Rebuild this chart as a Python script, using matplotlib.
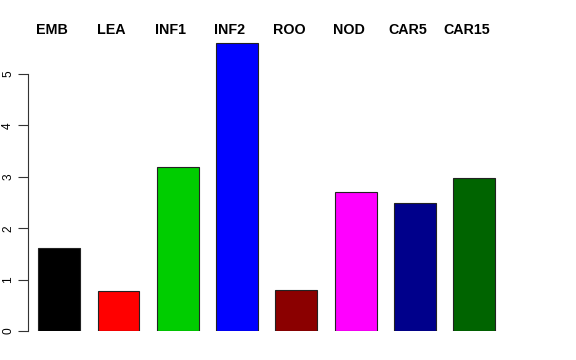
import matplotlib
matplotlib.use("Agg")
import matplotlib.pyplot as plt
import matplotlib.transforms as mtransforms
import numpy as np

tissues = ["EMB", "LEA", "INF1", "INF2", "ROO", "NOD", "CAR5", "CAR15"]
values = [1.62, 0.78, 3.20, 5.61, 0.79, 2.70, 2.49, 2.98]
colors = ["#000000", "#FF0000", "#00CD00", "#0000FF", "#8B0000", "#FF00FF", "#00008B", "#006400"]
yticks = [0, 1, 2, 3, 4, 5]

plt.rcParams["font.family"] = ["Liberation Sans", "DejaVu Sans"]

W, H = 576, 360
fig = plt.figure(figsize=(W / 100, H / 100), dpi=100)

# plot region in pixels: left 28, right 505.5, y=0 at 331
ymax = 6.0
px_per_unit = 51.4
top_px = 331 - ymax * px_per_unit
ax = fig.add_axes([28 / W, (H - 331) / H, (505.5 - 28) / W, (331 - top_px) / H])

x = np.arange(len(tissues))
ax.bar(x, values, width=0.708, color=colors, edgecolor="#222222", linewidth=0.8)

ax.set_xlim(-0.526, 7.526)
ax.set_ylim(0, ymax)

for s in ["top", "right", "bottom"]:
    ax.spines[s].set_visible(False)
ax.spines["left"].set_bounds(0, 5)
ax.spines["left"].set_linewidth(0.8)
ax.spines["left"].set_color("#333333")
ax.set_xticks([])
ax.set_yticks(yticks)
ax.set_yticklabels([str(t) for t in yticks], rotation=90, va="center", fontsize=8.6)
ax.tick_params(axis="y", length=7, width=0.8, color="#333333", pad=3)

# bold names along the top, x in data units, y in figure units
trans = mtransforms.blended_transform_factory(ax.transData, fig.transFigure)
for xi, name in zip(x, tissues):
    ax.text(xi - 0.12, 1 - 30 / H, name, transform=trans,
            ha="center", va="center", fontsize=10.3, fontweight="bold")

fig.savefig("out.png", dpi=100)
